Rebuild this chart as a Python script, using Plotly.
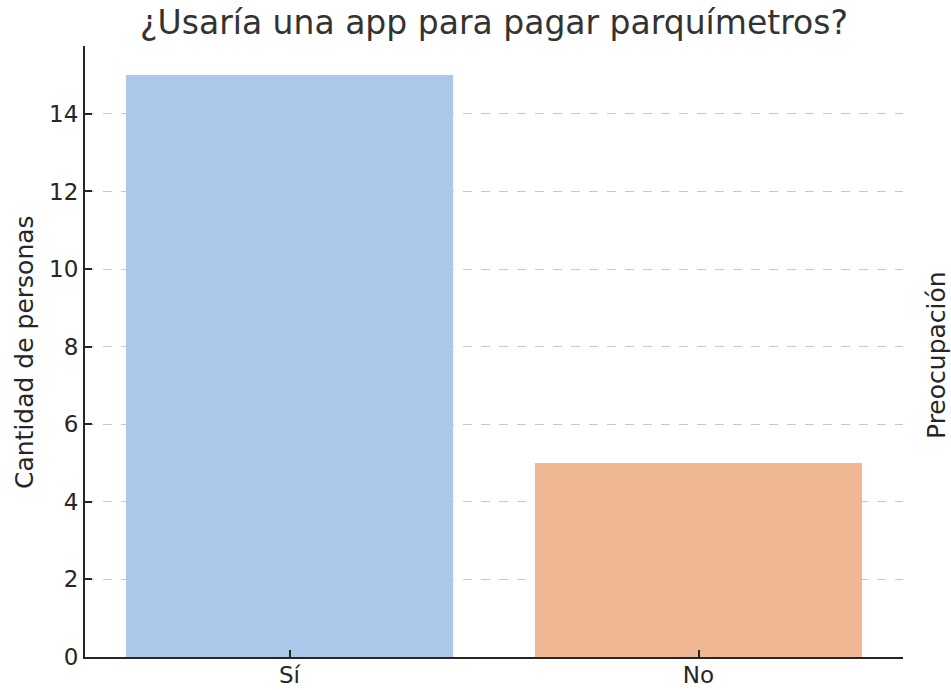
import plotly.graph_objects as go

# Survey answers
respuestas = ["Sí", "No"]
personas = [15, 5]
colores = ["#abc8eb", "#efb793"]
y_ticks = [0, 2, 4, 6, 8, 10, 12, 14]

W, H = 951, 690
L, R, T, B = 85, 48, 46, 33

fig = go.Figure(
    go.Bar(
        x=respuestas,
        y=personas,
        marker=dict(color=colores, line=dict(width=0)),
        hoverinfo="x+y",
    )
)

axis_color = "#262626"
font_family = "DejaVu Sans"

fig.update_layout(
    width=W,
    height=H,
    margin=dict(l=L, r=R, t=T, b=B, pad=0, autoexpand=False),
    plot_bgcolor="white",
    paper_bgcolor="white",
    bargap=0.2,
    showlegend=False,
    font=dict(family=font_family, color=axis_color, size=23),
    title=dict(
        text="¿Usaría una app para pagar parquímetros?",
        x=(L + (W - L - R) / 2) / W,
        xanchor="center",
        y=1 - 22 / H,
        yanchor="middle",
        font=dict(family=font_family, size=33, color="#333333"),
    ),
)

fig.update_xaxes(
    range=[-0.5, 1.5],
    automargin=False,
    showline=True,
    linecolor=axis_color,
    linewidth=2,
    ticks="inside",
    ticklen=7,
    tickwidth=1.5,
    tickcolor=axis_color,
    ticklabelstandoff=-4,
    showgrid=False,
    tickfont=dict(size=23, color=axis_color),
    fixedrange=True,
)

fig.update_yaxes(
    range=[0, 15.75],
    automargin=False,
    tickvals=y_ticks,
    showline=True,
    linecolor=axis_color,
    linewidth=2,
    ticks="inside",
    ticklen=7,
    tickwidth=1.5,
    tickcolor=axis_color,
    showgrid=True,
    gridcolor="#c8c8c8",
    griddash="dash",
    gridwidth=1,
    zeroline=False,
    tickfont=dict(size=23, color=axis_color),
    fixedrange=True,
)

# Axis labels placed as annotations
pw = W - L - R
ph = H - T - B
fig.add_annotation(
    text="Cantidad de personas",
    xref="paper", yref="paper",
    x=(24 - L) / pw, y=(H - B - 352) / ph,
    xanchor="center", yanchor="middle",
    textangle=-90, showarrow=False,
    font=dict(family=font_family, size=25, color=axis_color),
)
fig.add_annotation(
    text="Preocupación",
    xref="paper", yref="paper",
    x=(936 - L) / pw, y=(H - B - 355) / ph,
    xanchor="center", yanchor="middle",
    textangle=-90, showarrow=False,
    font=dict(family=font_family, size=25, color=axis_color),
)

fig.write_html("out.html")
